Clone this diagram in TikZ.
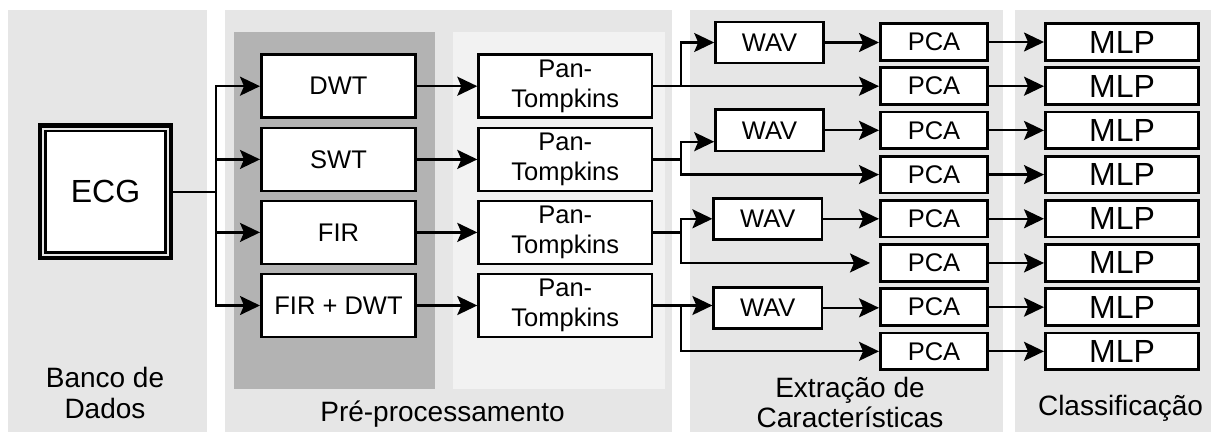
\documentclass[tikz,border=0pt]{standalone}
\usepackage{fontspec}
\setmainfont{Liberation Sans}
\usetikzlibrary{arrows.meta,calc,fit}
\definecolor{panel}{HTML}{E6E6E6}
\definecolor{darkpanel}{HTML}{B3B3B3}
\definecolor{lightpanel}{HTML}{F2F2F2}
\begin{document}
\begin{tikzpicture}[x=1pt,y=-1pt,
  box/.style={draw=black, fill=white, line width=2.7pt, inner sep=0pt, align=center,
    font=\fontsize{25.5}{30}\selectfont},
  stagebox/.style={box, minimum width=154.3pt, minimum height=63pt},
  ptbox/.style={box, minimum width=173.3pt, minimum height=63pt},
  wavbox/.style={box, minimum width=108.1pt, minimum height=41.1pt},
  pcabox/.style={box, minimum width=107.3pt, minimum height=36.7pt},
  mlpbox/.style={box, minimum width=153.3pt, minimum height=36.7pt, font=\fontsize{32}{36}\selectfont},
  conn/.style={line width=2.2pt},
  arr/.style={conn, -{Stealth[length=20pt,width=19pt,inset=4pt]}},
  caption/.style={anchor=base, inner sep=0pt, font=\fontsize{28}{31}\selectfont}
]
\useasboundingbox (0,0) rectangle (1217,432);
\fill[white] (0,0) rectangle (1217,432);

% stage panels
\fill[panel] (8,10) rectangle (207,432);
\fill[panel] (225,10) rectangle (672,432);
\fill[darkpanel] (234,32) rectangle (435,389);
\fill[lightpanel] (453,32) rectangle (665,389);
\fill[panel] (690,10) rectangle (1003,432);
\fill[panel] (1015,10) rectangle (1211,432);

% database
\node[draw, fill=white, line width=2.8pt, minimum width=120.4pt, minimum height=121.5pt,
  inner sep=0pt, font=\fontsize{32}{36}\selectfont] (ecg) at (105.5,191.7) {ECG};
\node[draw, line width=4.5pt, fit=(ecg), inner sep=3.9pt] (ecgframe) {};

% pre-processing
\node[stagebox] (dwt) at (338.5,86.2) {DWT};
\node[stagebox] (swt) at (338.5,159.4) {SWT};
\node[stagebox] (fir) at (338.5,232.4) {FIR};
\node[stagebox] (firdwt) at (338.5,305.5) {FIR + DWT};
\foreach \i/\y in {1/86.2,2/159.4,3/232.4,4/305.5}
  \node[ptbox] (pt\i) at (565.3,\y) {Pan-\\Tompkins};

% feature extraction
\node[wavbox] (wav1) at (769.6,42.5) {WAV};
\node[wavbox] (wav2) at (769.6,130.3) {WAV};
\node[wavbox] (wav3) at (767.8,218.8) {WAV};
\node[wavbox] (wav4) at (767.8,307.8) {WAV};
\foreach \i in {1,...,8}{
  \node[pcabox] (pca\i) at (934,{42+44.19*(\i-1)}) {PCA};
  \node[mlpbox] (mlp\i) at (1122,{42+44.19*(\i-1)}) {MLP};
}

% ECG to the four filters
\coordinate (split) at (216,192.3);
\foreach \n in {dwt,swt,fir,firdwt}
  \draw[arr] (ecgframe.east |- split) -- (split) |- (\n.west);

% filters to QRS detection
\draw[arr] (dwt.east) -- (pt1.west);
\draw[arr] (swt.east) -- (pt2.west);
\draw[arr] (fir.east) -- (pt3.west);
\draw[arr] (firdwt.east) -- (pt4.west);

% QRS detection to features
\foreach \i in {1,...,4}
  \coordinate (b\i) at ([xshift=27.7pt]pt\i.east);
\draw[arr] (pt1.east) -- (pt1.east -| pca2.west);
\draw[arr] (b1) |- (wav1.west);
\draw[conn] (pt2.east) -- (b2);
\draw[arr] (b2) |- ([yshift=-11.4pt]wav2.west);
\draw[arr] (b2) |- (pca4.west);
\draw[conn] (pt3.east) -- (b3);
\draw[arr] (b3) |- (wav3.west);
\draw[arr] (b3) |- ([xshift=-9pt]pca6.west);
\draw[arr] (pt4.east) -- (pt4.east -| wav4.west);
\draw[arr] (b4) |- (pca8.west);

% wavelet features to PCA
\draw[arr] (wav1.east) -- (wav1.east -| pca1.west);
\draw[arr] (wav2.east) -- (wav2.east -| pca3.west);
\draw[arr] (wav3.east) -- (wav3.east -| pca5.west);
\draw[arr] (wav4.east) -- (wav4.east -| pca7.west);

% PCA to classifiers
\foreach \i in {1,...,8}
  \draw[arr] (pca\i.east) -- (mlp\i.west);

% stage captions
\node[caption] (capdb1) at (105,387.5) {Banco de};
\node[caption] (capdb2) at (105,418) {Dados};
\node[caption] (cappre) at (442.5,421) {Pré-processamento};
\node[caption] (capfe1) at (850,397.5) {Extração de};
\node[caption] (capfe2) at (850,427.5) {Características};
\node[caption] (capcl) at (1120.5,415) {Classificação};
\end{tikzpicture}
\end{document}
